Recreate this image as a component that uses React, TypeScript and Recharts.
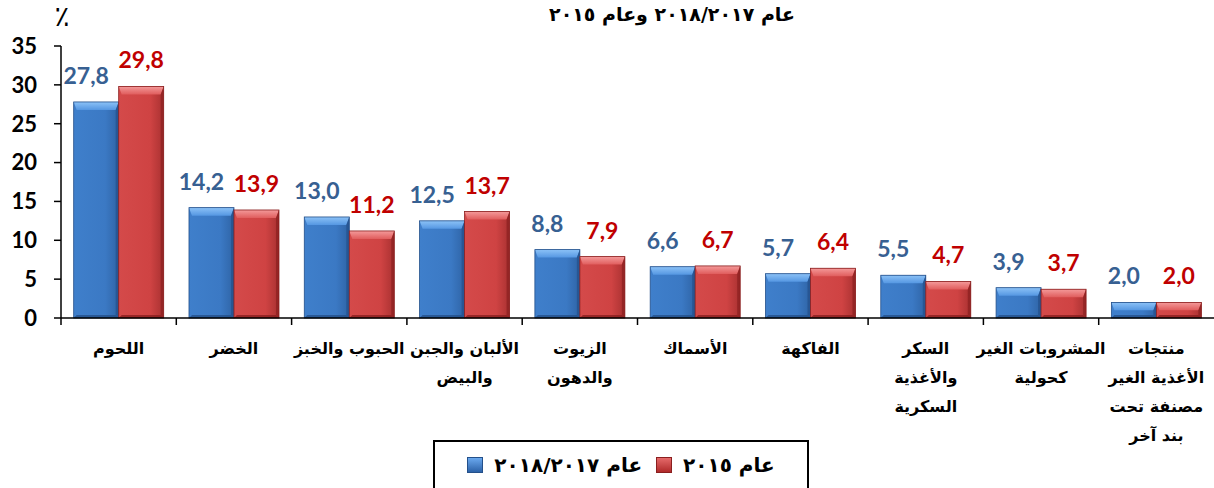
import { BarChart, Bar, XAxis, YAxis, Legend, LabelList } from 'recharts';

const categories = [
  'اللحوم',
  'الخضر',
  'الحبوب والخبز',
  'الألبان والجبن\nوالبيض',
  'الزيوت\nوالدهون',
  'الأسماك',
  'الفاكهة',
  'السكر\nوالأغذية\nالسكرية',
  'المشروبات الغير\nكحولية',
  'منتجات\nالأغذية الغير\nمصنفة تحت\nبند آخر',
];
const share2018 = [27.8, 14.2, 13.0, 12.5, 8.8, 6.6, 5.7, 5.5, 3.9, 2.0];
const share2015 = [29.8, 13.9, 11.2, 13.7, 7.9, 6.7, 6.4, 4.7, 3.7, 2.0];
const yTicks = [0, 5, 10, 15, 20, 25, 30, 35];
const seriesNames = ['عام ٢٠١٨/٢٠١٧', 'عام ٢٠١٥'];
const chartTitle = 'عام ٢٠١٨/٢٠١٧ وعام ٢٠١٥';
const unitLabel = '٪';

const data = categories.map((name, i) => ({ name, y2018: share2018[i], y2015: share2015[i] }));

const arabicFont = '"DejaVu Sans", sans-serif';
const numFont = 'Lato, "Open Sans", sans-serif';

const fmt = (v: any) => Number(v).toFixed(1).replace('.', ',');

// bar with a bevelled top, like the Excel 3D preset
const bevelShape = (body: string, top: string, dark: string) => (props: any) => {
  const { x, y, width, height } = props;
  if (!height || height <= 0) return null;
  const t = Math.min(8, height / 2);
  const s = Math.min(3, width / 4);
  const bt = Math.min(3, height / 4);
  return (
    <g>
      <rect x={x} y={y} width={width} height={height} fill={`url(#${body})`} />
      <polygon points={`${x},${y} ${x + width},${y} ${x + width - s},${y + t} ${x + s},${y + t}`} fill={`url(#${top})`} />
      <polygon points={`${x + width},${y} ${x + width},${y + height} ${x + width - s},${y + height - bt} ${x + width - s},${y + t}`} fill={dark} opacity={0.7} />
      <polygon points={`${x},${y + height} ${x + width},${y + height} ${x + width - s},${y + height - bt} ${x + s},${y + height - bt}`} fill={dark} opacity={0.8} />
      <rect x={x} y={y} width={width} height={height} fill="none" stroke={dark} strokeWidth={0.8} />
    </g>
  );
};

const CategoryTick = (props: any) => {
  const { x, y, payload, visibleTicksCount, width } = props;
  const half = payload.offset || width / visibleTicksCount / 2;
  const lines = String(payload.value).split('\n');
  return (
    <g>
      <line x1={x - half} y1={y} x2={x - half} y2={y + 7} stroke="#000" strokeWidth={1.5} />
      {lines.map((ln, i) => (
        <text key={i} x={x} y={y + 36 + i * 29} textAnchor="middle" direction="rtl"
          fontFamily={arabicFont} fontWeight="bold" fontSize={16} fill="#000">
          {ln}
        </text>
      ))}
    </g>
  );
};

const LegendBox = (props: any) => {
  const items = [...(props.payload || [])].sort(
    (a: any, b: any) => seriesNames.indexOf(a.value) - seriesNames.indexOf(b.value)
  );
  return (
    <div style={{
      border: '2px solid #000', height: 60, boxSizing: 'border-box', display: 'flex',
      alignItems: 'flex-start', justifyContent: 'center', paddingTop: 11, background: '#fff',
    }}>
      {items.map((it: any, i: number) => {
        const red = it.value === seriesNames[1];
        return (
          <div key={i} style={{ display: 'flex', alignItems: 'center', marginLeft: i ? 14 : 0 }}>
            <span style={{
              width: 14, height: 14, display: 'inline-block', marginRight: 11,
              background: red ? 'linear-gradient(#e56a6a, #b02a2a)' : 'linear-gradient(#6aa8ee, #2c62a8)',
              border: `1px solid ${red ? '#8a1f1f' : '#24508a'}`,
            }} />
            <span dir="rtl" style={{ fontFamily: arabicFont, fontWeight: 'bold', fontSize: 20, color: '#000' }}>
              {it.value}
            </span>
          </div>
        );
      })}
    </div>
  );
};

export default function App() {
  return (
    <div style={{ position: 'absolute', left: 0, top: 0, width: 1214, height: 488, background: '#fff' }}>
      <BarChart width={1214} height={488} data={data}
        margin={{ top: 46, right: 0, left: 0, bottom: 0 }}
        barCategoryGap="11%" barGap={0}>
        <defs>
          <linearGradient id="blueBody" x1="0" y1="0" x2="1" y2="0">
            <stop offset="0%" stopColor="#3f7fcb" />
            <stop offset="70%" stopColor="#3b79c4" />
            <stop offset="100%" stopColor="#2f64a6" />
          </linearGradient>
          <linearGradient id="redBody" x1="0" y1="0" x2="1" y2="0">
            <stop offset="0%" stopColor="#d44a4a" />
            <stop offset="70%" stopColor="#cf4343" />
            <stop offset="100%" stopColor="#a93131" />
          </linearGradient>
          <linearGradient id="blueTop" x1="0" y1="0" x2="0" y2="1">
            <stop offset="0%" stopColor="#8cc2f7" />
            <stop offset="100%" stopColor="#5597e2" />
          </linearGradient>
          <linearGradient id="redTop" x1="0" y1="0" x2="0" y2="1">
            <stop offset="0%" stopColor="#f49a9a" />
            <stop offset="100%" stopColor="#e05d5d" />
          </linearGradient>
        </defs>
        <text x={672} y={21} textAnchor="middle" direction="rtl" fontFamily={arabicFont}
          fontWeight="bold" fontSize={19} fill="#000">{chartTitle}</text>
        <text x={62} y={26} textAnchor="middle" fontFamily={arabicFont} fontSize={28} fill="#000">{unitLabel}</text>
        <XAxis dataKey="name" interval={0} height={170} tickLine={false} tickSize={0} tickMargin={0}
          axisLine={{ stroke: '#000', strokeWidth: 1.5 }} tick={<CategoryTick />} />
        <YAxis domain={[0, 35]} ticks={yTicks} width={61} interval={0}
          axisLine={{ stroke: '#000', strokeWidth: 1.5 }} tickLine={{ stroke: '#000', strokeWidth: 1.5 }}
          tickSize={7} tickMargin={17}
          tick={{ fill: '#000', fontSize: 22, fontWeight: 'bold', fontFamily: numFont }} />
        <Legend layout="horizontal" verticalAlign="middle" align="center" content={<LegendBox />}
          wrapperStyle={{ left: 433, top: 440, width: 376 }} />
        <Bar dataKey="y2018" name={seriesNames[0]} fill="#3b79c4" isAnimationActive={false}
          shape={bevelShape('blueBody', 'blueTop', '#24508a')}>
          <LabelList dataKey="y2018" position="top" offset={18} formatter={fmt}
            style={{ fill: '#376092', fontSize: 23, fontWeight: 'bold', fontFamily: numFont }}
            dx={-10} />
        </Bar>
        <Bar dataKey="y2015" name={seriesNames[1]} fill="#cf4343" isAnimationActive={false}
          shape={bevelShape('redBody', 'redTop', '#8a1f1f')}>
          <LabelList dataKey="y2015" position="top" offset={18} formatter={fmt}
            style={{ fill: '#c00000', fontSize: 23, fontWeight: 'bold', fontFamily: numFont }} />
        </Bar>
      </BarChart>
    </div>
  );
}
